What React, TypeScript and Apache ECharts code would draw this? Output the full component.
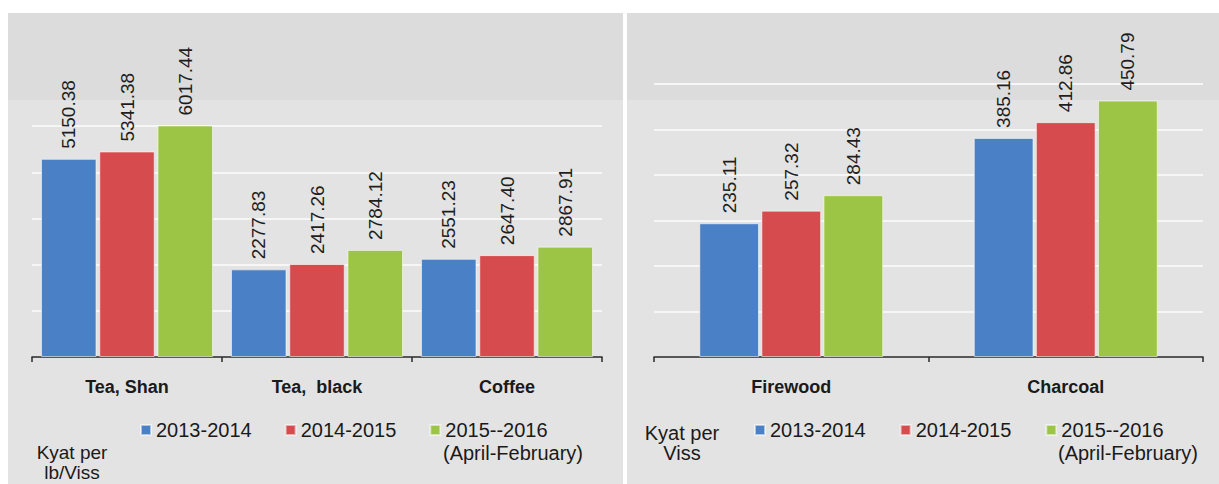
import React, { useEffect, useRef } from "react";
import * as echarts from "echarts";

const leftCategories = ["Tea, Shan", "Tea,  black", "Coffee"];
const left2013 = [5150.38, 2277.83, 2551.23];
const left2014 = [5341.38, 2417.26, 2647.4];
const left2015 = [6017.44, 2784.12, 2867.91];

const rightCategories = ["Firewood", "Charcoal"];
const right2013 = [235.11, 385.16];
const right2014 = [257.32, 412.86];
const right2015 = [284.43, 450.79];

const seriesNames = ["2013-2014", "2014-2015", "2015--2016"];
const seriesNote = "(April-February)";
const colors = ["#4a80c6", "#d64b4e", "#9cc445"];

const leftUnit = "Kyat per\nlb/Viss";
const rightUnit = "Kyat per\nViss";

const FONT = "'Liberation Sans', Arial, Helvetica, sans-serif";

export default function App() {
  const ref = useRef<HTMLDivElement>(null);

  useEffect(() => {
    if (!ref.current) return;
    const chart = echarts.init(ref.current, undefined, { renderer: "svg" });

    const label = {
      show: true,
      position: "top",
      rotate: 90,
      align: "left",
      verticalAlign: "middle",
      distance: 10,
      fontSize: 19,
      fontFamily: FONT,
      color: "#1e1e1e",
      formatter: (p: any) => Number(p.value).toFixed(2),
    };

    const mkSeries = (name: string, data: number[], idx: number, axis: number, catGap: string, gap: string) => ({
      type: "bar",
      name,
      xAxisIndex: axis,
      yAxisIndex: axis,
      data,
      barGap: gap,
      barCategoryGap: catGap,
      itemStyle: { color: colors[idx], borderColor: "rgba(255,255,255,0.55)", borderWidth: 1 },
      label,
    });

    const xAxisBase = (data: string[], grid: number) => ({
      type: "category",
      gridIndex: grid,
      data,
      axisLine: { show: true, lineStyle: { color: "#2a2a2a", width: 1.5 } },
      axisTick: { show: true, length: 5, lineStyle: { color: "#2a2a2a", width: 1.5 } },
      axisLabel: {
        fontSize: 18,
        fontWeight: "bold",
        fontFamily: FONT,
        color: "#1a1a1a",
        margin: 21,
      },
    });

    const yAxisBase = (grid: number, max: number, interval: number, showMax: boolean) => ({
      type: "value",
      gridIndex: grid,
      min: 0,
      max,
      interval,
      axisLine: { show: false },
      axisTick: { show: false },
      axisLabel: { show: false },
      splitLine: {
        show: true,
        showMinLine: false,
        showMaxLine: showMax,
        lineStyle: { color: "#f6f6f6", width: 2 },
      },
    });

    const legendBase = (left: number, gap: number) => ({
      left,
      top: 420,
      padding: 0,
      orient: "horizontal",
      icon: "rect",
      itemWidth: 10,
      itemHeight: 10,
      itemGap: gap,
      data: seriesNames,
      textStyle: { fontSize: 20, fontFamily: FONT, color: "#1a1a1a" },
    });

    const option = {
      animation: false,
      graphic: [
        { type: "rect", z: -100, shape: { x: 8, y: 13, width: 615, height: 471 }, style: { fill: "#e3e3e3" } },
        { type: "rect", z: -99, shape: { x: 8, y: 13, width: 615, height: 87 }, style: { fill: "#dcdcdc" } },
        { type: "rect", z: -100, shape: { x: 627, y: 13, width: 592, height: 471 }, style: { fill: "#e3e3e3" } },
        { type: "rect", z: -99, shape: { x: 627, y: 13, width: 592, height: 87 }, style: { fill: "#dcdcdc" } },
        {
          type: "text",
          z: 100,
          x: 72,
          y: 442,
          style: { text: leftUnit, align: "center", verticalAlign: "top", fontSize: 19, lineHeight: 20, fontFamily: FONT, fill: "#1a1a1a" },
        },
        {
          type: "text",
          z: 100,
          x: 682,
          y: 423,
          style: { text: rightUnit, align: "center", verticalAlign: "top", fontSize: 20, lineHeight: 20, fontFamily: FONT, fill: "#1a1a1a" },
        },
        {
          type: "text",
          z: 100,
          x: 443,
          y: 453,
          style: { text: seriesNote, align: "left", verticalAlign: "middle", fontSize: 20, fontFamily: FONT, fill: "#1a1a1a" },
        },
        {
          type: "text",
          z: 100,
          x: 1058,
          y: 453,
          style: { text: seriesNote, align: "left", verticalAlign: "middle", fontSize: 20, fontFamily: FONT, fill: "#1a1a1a" },
        },
      ],
      grid: [
        { left: 32, top: 80, width: 570, height: 277 },
        { left: 654, top: 84, width: 549, height: 273 },
      ],
      xAxis: [xAxisBase(leftCategories, 0), xAxisBase(rightCategories, 1)],
      yAxis: [yAxisBase(0, 7200, 1200, false), yAxisBase(1, 480, 80, true)],
      legend: [legendBase(140, 33), legendBase(754, 34)],
      series: [
        mkSeries(seriesNames[0], left2013, 0, 0, "9.5%", "5%"),
        mkSeries(seriesNames[1], left2014, 1, 0, "9.5%", "5%"),
        mkSeries(seriesNames[2], left2015, 2, 0, "9.5%", "5%"),
        mkSeries(seriesNames[0], right2013, 0, 1, "33%", "4%"),
        mkSeries(seriesNames[1], right2014, 1, 1, "33%", "4%"),
        mkSeries(seriesNames[2], right2015, 2, 1, "33%", "4%"),
      ],
    };

    chart.setOption(option as any);
    return () => chart.dispose();
  }, []);

  return (
    <div
      ref={ref}
      style={{ position: "absolute", left: 0, top: 0, width: 1219, height: 484, background: "#ffffff" }}
    />
  );
}
